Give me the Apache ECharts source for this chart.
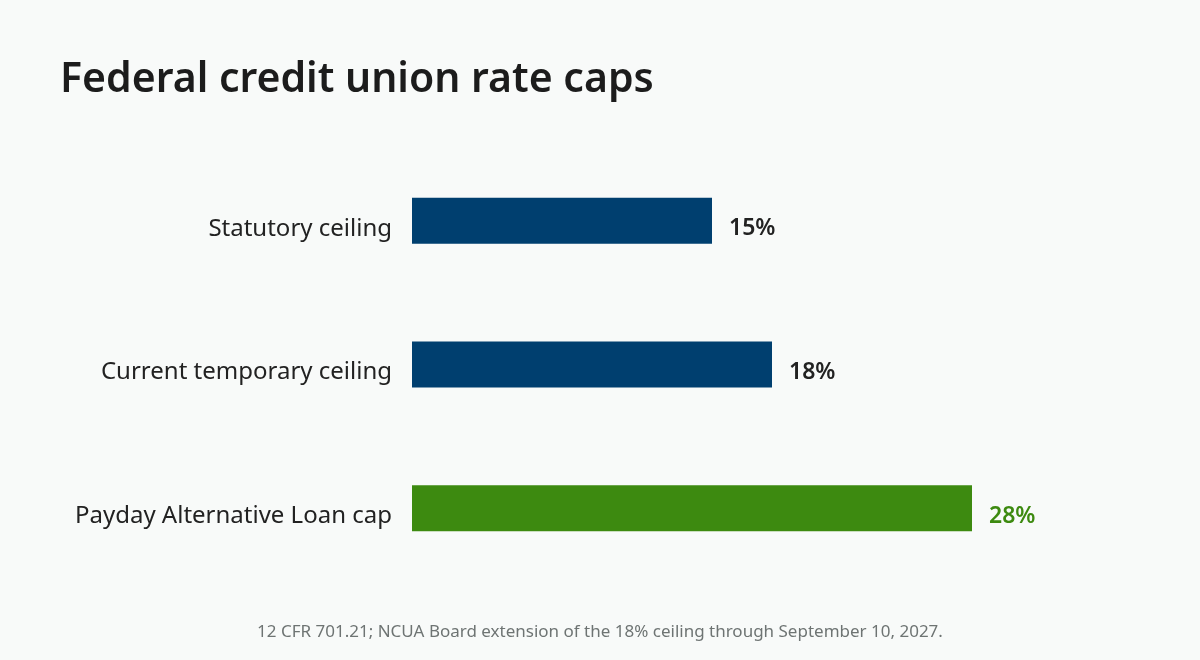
<!DOCTYPE html>
<html>
<head>
<meta charset="utf-8">
<title>Federal credit union rate caps</title>
<script src="https://cdn.jsdelivr.net/npm/echarts@6/dist/echarts.min.js"></script>
<style>
  html, body { margin: 0; padding: 0; background: #f8faf9; }
  #chart { width: 1200px; height: 660px; }
</style>
</head>
<body>
<div id="chart"></div>
<script>
// chart data
var categories = ['Statutory ceiling', 'Current temporary ceiling', 'Payday Alternative Loan cap'];
var values = [15, 18, 28];
var barColors = ['#003f6f', '#003f6f', '#3d8a10'];
var labelColors = ['#222222', '#222222', '#3d8a10'];

var FONT = '"Noto Sans", "Open Sans", sans-serif';

var myChart = echarts.init(document.getElementById('chart'));

var option = {
  backgroundColor: '#f8faf9',
  animation: false,
  title: [
    {
      text: 'Federal credit union rate caps',
      left: 55,
      top: 55,
      textStyle: { fontFamily: FONT, fontSize: 41, fontWeight: 600, color: '#1c1c1c' }
    },
    {
      text: '12 CFR 701.21; NCUA Board extension of the 18% ceiling through September 10, 2027.',
      left: 'center',
      top: 619,
      textStyle: { fontFamily: FONT, fontSize: 17, fontWeight: 'normal', color: '#6e7473' }
    }
  ],
  grid: { left: 412, right: 188, top: 149, bottom: 80, containLabel: false },
  xAxis: {
    type: 'value',
    min: 0,
    max: 30,
    show: false
  },
  yAxis: {
    type: 'category',
    data: categories,
    inverse: true,
    axisLine: { show: false },
    axisTick: { show: false },
    axisLabel: {
      fontFamily: FONT,
      fontSize: 24,
      color: '#222222',
      margin: 20,
      verticalAlign: 'top',
      lineHeight: 16
    }
  },
  series: [{
    type: 'bar',
    barWidth: 46,
    data: values.map(function (v, i) {
      return {
        value: v,
        itemStyle: { color: barColors[i] },
        label: { color: labelColors[i] }
      };
    }),
    label: {
      show: true,
      position: 'right',
      distance: 17,
      offset: [0, 8],
      formatter: '{c}%',
      fontFamily: FONT,
      fontSize: 23,
      fontWeight: 600
    }
  }]
};

myChart.setOption(option);
</script>
</body>
</html>
